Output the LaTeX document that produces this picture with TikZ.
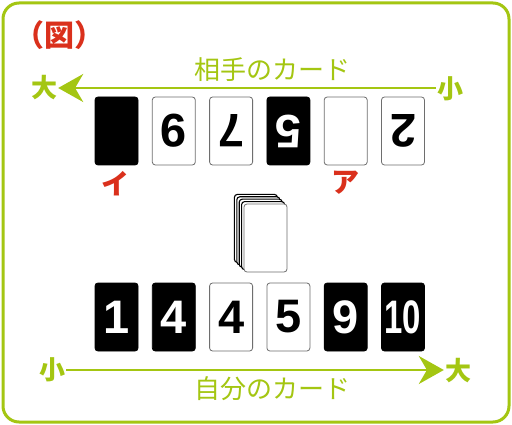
\documentclass[tikz,border=0pt]{standalone}
\usepackage{fontspec}
\usepackage{tikz}
\usetikzlibrary{positioning, arrows.meta}
\newfontfamily\jpfont{Noto Sans CJK JP}
\newfontfamily\numfont{Liberation Sans}
\definecolor{mygreen}{RGB}{164, 198, 18}
\definecolor{myred}{RGB}{218, 48, 28}
\definecolor{mygrey}{RGB}{110, 110, 110}
\newcommand{\upsd}[1]{\rotatebox{180}{#1}}

\begin{document}
\begin{tikzpicture}[x = 1pt, y = -1pt, node distance = 13.5pt,
  card/.style={draw = mygrey, line width = 0.8pt, rounded corners = 3pt, fill = white,
    minimum width = 43pt, minimum height = 68pt, inner sep = 0pt,
    font = \numfont\bfseries\fontsize{47}{47}\selectfont},
  blackcard/.style={card, draw = black, fill = black, text = white},
  arrow/.style={draw = mygreen, line width = 2pt, -{Stealth[length = 25pt, width = 28pt]}},
  endlabel/.style={text = mygreen, font = \jpfont\bfseries\fontsize{26}{26}\selectfont, inner sep = 1pt},
  title/.style={text = mygreen, font = \jpfont\fontsize{26}{26}\selectfont, inner sep = 0pt},
  cardmark/.style={text = myred, font = \jpfont\bfseries\fontsize{28}{28}\selectfont, inner sep = 0pt}]
  \useasboundingbox (0,0) rectangle (512,425);
  % frame
  \draw [mygreen, line width = 3pt, rounded corners = 16pt, fill = white] (3,3) rectangle (509,422);
  \node [text = myred, font = \jpfont\bfseries\fontsize{30}{30}\selectfont, inner sep = 0pt] (fig) at (60,35) {（図）};

  % opponent's cards
  \node [title] (opp-title) at (272,70) {相手のカード};
  \node [endlabel] (opp-big) at (44,88) {大};
  \node [endlabel] (opp-small) at (450,89) {小};
  \draw [arrow] (opp-small.west |- opp-big.east) to (opp-big.east);

  \node [blackcard] (o1) at (116.5,131) {};
  \node [card][right = of o1] (o2) {\upsd{9}};
  \node [card][right = of o2] (o3) {\upsd{7}};
  \node [blackcard][right = of o3] (o4) {\upsd{5}};
  \node [card][right = of o4] (o5) {};
  \node [card][right = of o5] (o6) {\upsd{2}};

  \node [cardmark] (mark-i) at (115,184) {イ};
  \node [cardmark] (mark-a) at (345,183) {ア};

  % deck
  \coordinate (deckpos) at (265.5,238);
  \foreach \i in {4,...,1}
    \node [card, draw = black, line width = 1.1pt, shift = {(-2.4*\i,-2.4*\i)}] at (deckpos) {};
  \node [card] (deck) at (deckpos) {};

  % my cards
  \node [blackcard] (m1) at (116.5,317) {1};
  \node [blackcard][right = of m1] (m2) {4};
  \node [card][right = of m2] (m3) {4};
  \node [card][right = of m3] (m4) {5};
  \node [blackcard][right = of m4] (m5) {9};
  \node [blackcard][right = of m5] (m6) {\scalebox{0.7}[1]{10}};

  \node [endlabel] (my-small) at (52,370) {小};
  \node [endlabel] (my-big) at (458,371) {大};
  \draw [arrow] (my-small.east) to (my-big.west |- my-small.east);
  \node [title] (my-title) at (272,389) {自分のカード};
\end{tikzpicture}
\end{document}
